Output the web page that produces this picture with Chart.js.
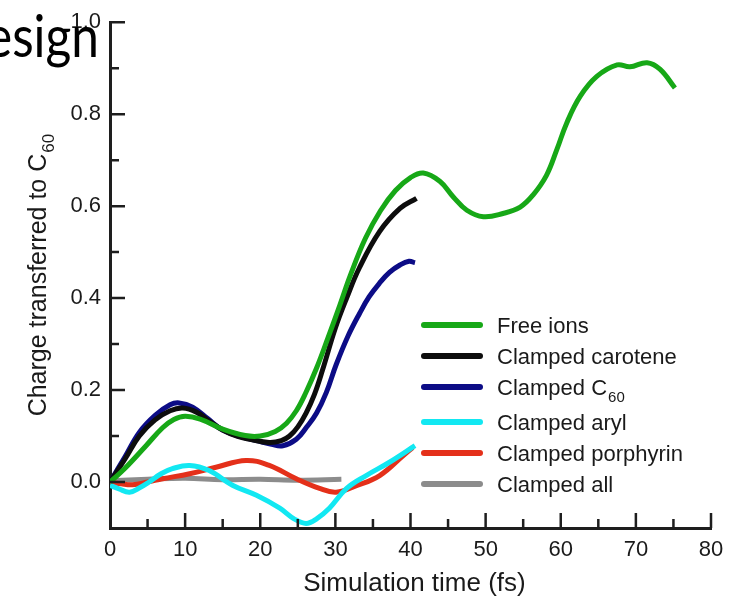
<!DOCTYPE html>
<html>
<head>
<meta charset="utf-8">
<script src="https://cdn.jsdelivr.net/npm/chart.js@4.4.1/dist/chart.umd.min.js"></script>
<style>
  body { margin: 0; background: #fff; }
  #wrap { position: relative; width: 749px; height: 596px; overflow: hidden; }
  #slide {
    position: absolute; right: 650px; top: -1px;
    font: 59px Lato, "Open Sans", sans-serif; color: #000;
    white-space: nowrap; transform-origin: right top; transform: scaleX(0.84);
  }
</style>
</head>
<body>
<div id="wrap">
  <canvas id="grafico" width="749" height="596"></canvas>
  <div id="slide">Design</div>
</div>
<script>
// series (time in fs, charge)
const freeT = [0, 2, 4.8, 7, 8.5, 10, 12, 15, 18, 20, 22, 23.5, 24.8, 26, 27.5, 29, 30.6, 32, 34, 36, 38, 40, 41.7, 43.9, 45.7, 47.5, 49.7, 52.3, 54.6, 56.3, 58.1, 59.5, 60.8, 62.6, 64.8, 67.5, 69.2, 71.5, 73.2, 75.2];
const freeV = [0, 0.03, 0.079, 0.118, 0.136, 0.143, 0.137, 0.115, 0.101, 0.1, 0.11, 0.128, 0.155, 0.192, 0.248, 0.313, 0.385, 0.45, 0.53, 0.59, 0.634, 0.662, 0.672, 0.654, 0.62, 0.591, 0.577, 0.584, 0.598, 0.624, 0.667, 0.724, 0.781, 0.839, 0.882, 0.907, 0.903, 0.912, 0.898, 0.857];

const caroteneT = [0, 2, 3.9, 6, 8, 9.7, 11.5, 13, 15, 17, 18.6, 21.2, 22.8, 23.9, 25, 26.1, 27.2, 28.3, 30, 31.5, 33.2, 35.9, 38.6, 40.8];
const caroteneV = [0, 0.05, 0.1, 0.135, 0.155, 0.161, 0.152, 0.135, 0.113, 0.099, 0.093, 0.086, 0.09, 0.1, 0.12, 0.15, 0.19, 0.244, 0.335, 0.4, 0.466, 0.545, 0.595, 0.617];

const c60T = [0, 2, 3.9, 6, 8, 9.2, 11, 13, 15, 17.5, 19.5, 21.5, 23, 24.8, 26.2, 27.5, 28.8, 30.1, 31.7, 33.2, 34.5, 35.9, 37.2, 38.6, 39.8, 40.6];
const c60V = [0, 0.055, 0.108, 0.145, 0.168, 0.172, 0.163, 0.138, 0.113, 0.098, 0.09, 0.082, 0.079, 0.093, 0.12, 0.15, 0.195, 0.255, 0.318, 0.366, 0.403, 0.433, 0.456, 0.472, 0.48, 0.477];

const arylT = [0, 1.2, 2.6, 4, 5.2, 6.8, 8.3, 10.6, 13.2, 16.3, 19.5, 22.6, 24.5, 26.1, 27.5, 29.2, 31.5, 34.1, 37.2, 40.6];
const arylV = [-0.007, -0.015, -0.022, -0.012, 0, 0.018, 0.029, 0.036, 0.025, -0.007, -0.029, -0.057, -0.08, -0.09, -0.08, -0.057, -0.014, 0.014, 0.043, 0.079];

const porphyrinT = [0, 1.5, 3, 5, 7, 10.6, 14.1, 18.1, 21.2, 24.8, 27.9, 30.1, 32.8, 35.9, 39, 40.3];
const porphyrinV = [0, -0.004, -0.006, 0, 0.007, 0.018, 0.032, 0.047, 0.036, 0.007, -0.014, -0.022, -0.008, 0.014, 0.057, 0.075];

const allT = [0, 5, 10, 15, 20, 25, 30.8];
const allV = [0.003, 0.006, 0.008, 0.005, 0.006, 0.004, 0.006];

const seriesNames = ["Free ions", "Clamped carotene", "Clamped C60", "Clamped aryl", "Clamped porphyrin", "Clamped all"];
const seriesColors = ["#17a817", "#0d0d0d", "#0c0c86", "#12e8f2", "#e4301a", "#8c8c8c"];

// axes
const xTickValues = [0, 10, 20, 30, 40, 50, 60, 70, 80];
const xTickLabels = ["0", "10", "20", "30", "40", "50", "60", "70", "80"];
const xMinorValues = [5, 15, 25, 35, 45, 55, 65, 75];
const yTickValues = [0, 0.2, 0.4, 0.6, 0.8, 1.0];
const yTickLabels = ["0.0", "0.2", "0.4", "0.6", "0.8", "1.0"];
const yMinorValues = [0.1, 0.3, 0.5, 0.7, 0.9];
const xTitle = "Simulation time (fs)";
const yTitle = "Charge transferred to C";
const subText = "60";

const AXIS = "#1e1e1e";
const FONT = "'Liberation Sans', Arial, sans-serif";

const pares = [[freeT, freeV], [caroteneT, caroteneV], [c60T, c60V], [arylT, arylV], [porphyrinT, porphyrinV], [allT, allV]];
const datasets = pares.map((p, i) => ({
  label: seriesNames[i],
  data: p[0].map((t, k) => ({ x: t, y: p[1][k] })),
  borderColor: seriesColors[i],
  borderWidth: 5,
  pointRadius: 0,
  tension: 0.4,
  fill: false,
}));

function drawSub(ctx, text, sub, x, y, size, align) {
  ctx.font = size + "px " + FONT;
  const w1 = ctx.measureText(text).width;
  ctx.font = Math.round(size * 0.68) + "px " + FONT;
  const w2 = ctx.measureText(sub).width;
  let x0 = x;
  if (align === "center") x0 = x - (w1 + w2 + 1) / 2;
  ctx.textAlign = "left";
  ctx.font = size + "px " + FONT;
  ctx.fillText(text, x0, y);
  ctx.font = Math.round(size * 0.68) + "px " + FONT;
  ctx.fillText(sub, x0 + w1 + 1, y + size * 0.3);
}

const decor = {
  id: "decor",
  afterDraw(chart) {
    const { ctx, scales: { x, y }, chartArea: a } = chart;
    ctx.save();
    ctx.strokeStyle = AXIS;
    ctx.lineWidth = 2.5;
    ctx.beginPath();
    xTickValues.slice(1).forEach((v) => { const px = x.getPixelForValue(v); ctx.moveTo(px, a.bottom); ctx.lineTo(px, a.bottom - 15); });
    xMinorValues.forEach((v) => { const px = x.getPixelForValue(v); ctx.moveTo(px, a.bottom); ctx.lineTo(px, a.bottom - 9); });
    yTickValues.forEach((v) => { const py = y.getPixelForValue(v); ctx.moveTo(a.left, py); ctx.lineTo(a.left + 15, py); });
    yMinorValues.forEach((v) => { const py = y.getPixelForValue(v); ctx.moveTo(a.left, py); ctx.lineTo(a.left + 9, py); });
    ctx.stroke();

    ctx.fillStyle = "#1a1a1a";
    ctx.textBaseline = "alphabetic";
    // x title
    ctx.font = "26px " + FONT;
    ctx.textAlign = "center";
    ctx.fillText(xTitle, (a.left + a.right) / 2 + 4, 591);
    // y title
    ctx.save();
    ctx.translate(46, (a.top + a.bottom) / 2);
    ctx.rotate(-Math.PI / 2);
    drawSub(ctx, yTitle, subText, 0, 0, 25, "center");
    ctx.restore();

    // legend
    const base = [333, 364, 395, 430, 461, 492];
    ctx.lineCap = "round";
    seriesNames.forEach((name, i) => {
      ctx.strokeStyle = seriesColors[i];
      ctx.lineWidth = 6;
      ctx.beginPath();
      ctx.moveTo(424, base[i] - 8);
      ctx.lineTo(480, base[i] - 8);
      ctx.stroke();
      ctx.fillStyle = "#1a1a1a";
      if (name.endsWith(subText)) {
        drawSub(ctx, name.slice(0, -subText.length), subText, 497, base[i], 22, "left");
      } else {
        ctx.font = "22px " + FONT;
        ctx.textAlign = "left";
        ctx.fillText(name, 497, base[i]);
      }
    });
    ctx.restore();
  },
};

new Chart(document.getElementById("grafico").getContext("2d"), {
  type: "line",
  data: { datasets },
  options: {
    responsive: false,
    animation: false,
    devicePixelRatio: 1,
    layout: { padding: { top: 15, right: 38, left: 0, bottom: 0 } },
    plugins: { legend: { display: false }, tooltip: { enabled: false } },
    scales: {
      x: {
        type: "linear",
        min: 0,
        max: 80,
        afterFit: (s) => { s.height = 68; },
        grid: { display: true, drawOnChartArea: false, drawTicks: false },
        border: { display: true, color: AXIS, width: 3 },
        ticks: {
          stepSize: 10,
          autoSkip: false,
          maxRotation: 0,
          padding: 9,
          color: "#1a1a1a",
          font: { family: FONT, size: 22 },
          callback: (v) => { const i = xTickValues.indexOf(v); return i >= 0 ? xTickLabels[i] : ""; },
        },
      },
      y: {
        min: -0.1,
        max: 1.0,
        afterFit: (s) => { s.width = 110; },
        grid: { display: true, drawOnChartArea: false, drawTicks: false },
        border: { display: true, color: AXIS, width: 3 },
        ticks: {
          stepSize: 0.1,
          autoSkip: false,
          padding: 9,
          color: "#1a1a1a",
          font: { family: FONT, size: 22 },
          callback: (v) => { const i = yTickValues.findIndex((t) => Math.abs(t - v) < 1e-6); return i >= 0 ? yTickLabels[i] : ""; },
        },
      },
    },
  },
  plugins: [decor],
});
</script>
</body>
</html>
